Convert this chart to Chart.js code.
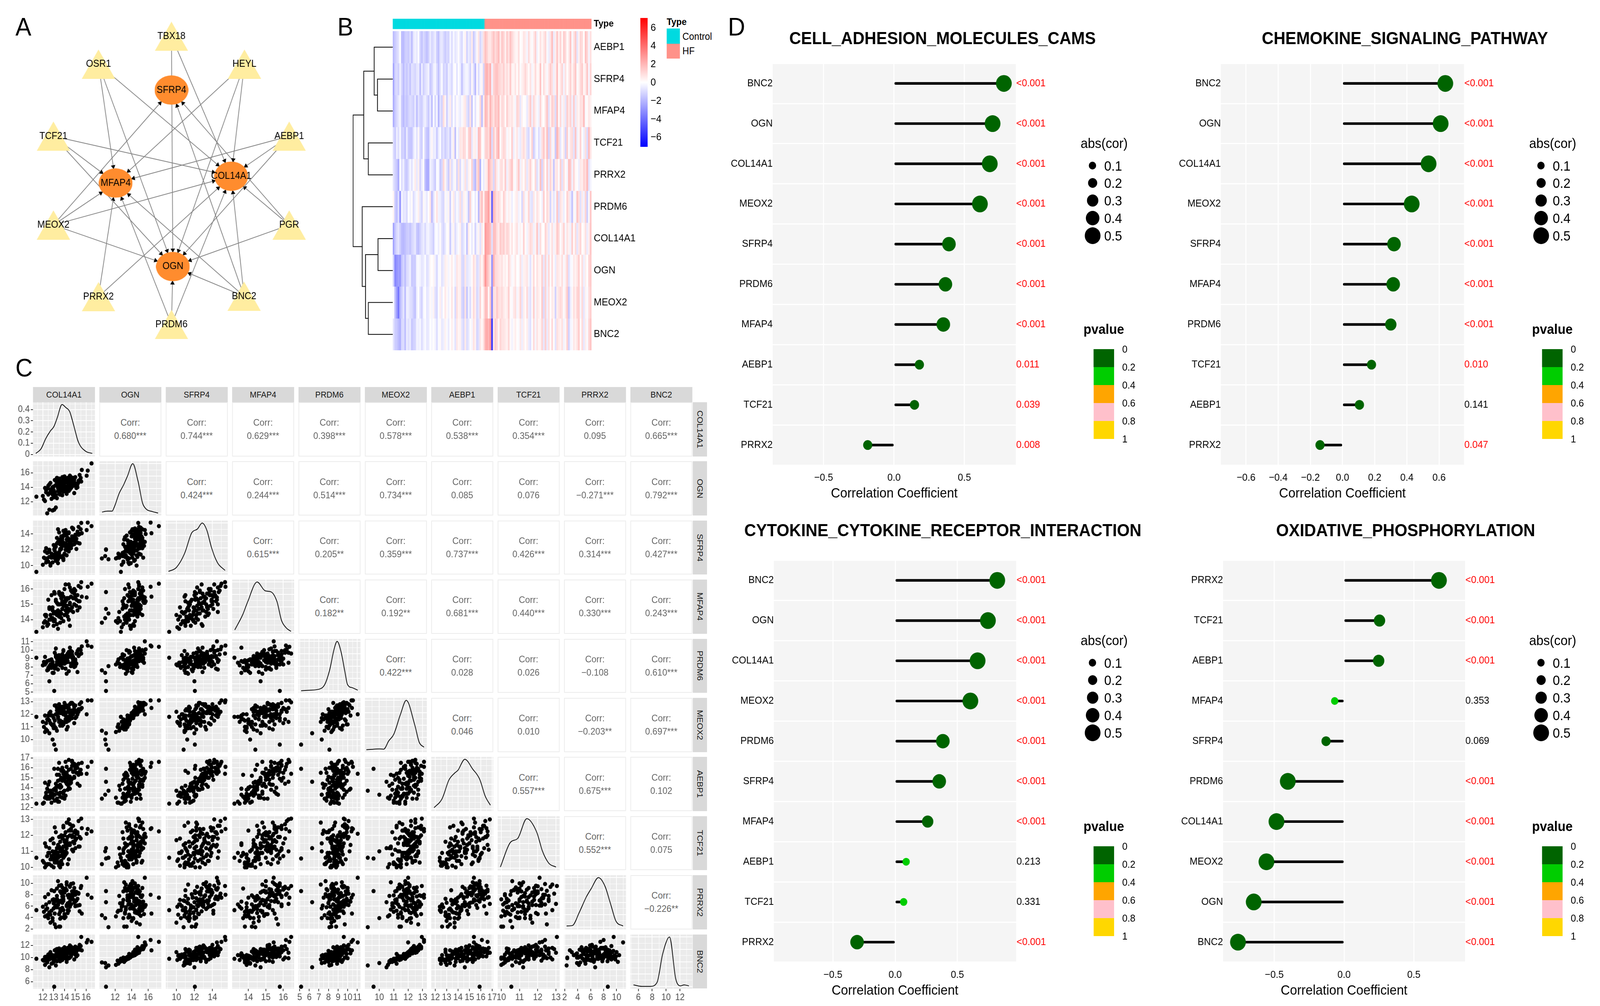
<!DOCTYPE html>
<html><head><meta charset="utf-8">
<style>
html,body{margin:0;padding:0;background:#fff;font-family:"Liberation Sans",Arial,sans-serif;overflow:hidden}
#page{position:absolute;left:0;top:0;width:4363px;height:2576px;overflow:hidden;background:#fff;transform-origin:0 0}
canvas{position:absolute}
.t{position:absolute;white-space:nowrap;line-height:1}
.b{position:absolute}
</style>
<script src="https://cdn.jsdelivr.net/npm/chart.js@4"></script>
</head><body><div id="page"></div>
<script>
/* ---------- A: network ---------- */
const nodeNames=['TBX18','OSR1','HEYL','TCF21','AEBP1','MEOX2','PGR','PRRX2','BNC2','PRDM6','SFRP4','COL14A1','MFAP4','OGN'];
const nodeX=[468,264,672,138,797,138,797,264,671,468,468,635,312,472];
const nodeY=[84,157,157,346,346,579,579,767,766,840,225,451,469,688];
const hubNames=['SFRP4','COL14A1','MFAP4','OGN'];
const edgeFrom=['TBX18','TBX18','OSR1','OSR1','OSR1','HEYL','HEYL','HEYL','TCF21','TCF21','TCF21','AEBP1','AEBP1','AEBP1','MEOX2','MEOX2','MEOX2','MEOX2','PGR','PGR','PGR','PRRX2','PRRX2','BNC2','BNC2','BNC2','BNC2','PRDM6','PRDM6','PRDM6'];
const edgeTo=['OGN','COL14A1','MFAP4','OGN','COL14A1','MFAP4','OGN','COL14A1','MFAP4','OGN','COL14A1','MFAP4','COL14A1','OGN','SFRP4','MFAP4','COL14A1','OGN','SFRP4','COL14A1','OGN','MFAP4','COL14A1','SFRP4','COL14A1','MFAP4','OGN','MFAP4','OGN','COL14A1'];

/* ---------- B + C: expression per sample; column order = pairGenes ---------- */
const pairGenes=['COL14A1','OGN','SFRP4','MFAP4','PRDM6','MEOX2','AEBP1','TCF21','PRRX2','BNC2'];
const controlSamples=[
[11.4,12.7,9.2,13.2,9.1,11.8,12.4,10.6,5.3,9.8],[12.4,10.4,10.9,13.8,7.6,10.7,12.9,10.2,4.4,9.2],[12.9,10.8,11.2,14.1,7.3,10.0,13.3,11.0,3.9,9.1],
[13.2,11.2,10.8,14.4,8.1,9.2,13.7,10.6,2.3,8.7],[12.6,10.9,12.0,14.7,6.3,10.5,14.6,11.2,6.7,8.4],[12.1,12.3,11.0,13.8,8.6,11.0,12.5,10.3,5.0,9.5],
[12.0,12.8,10.1,13.5,8.2,11.4,12.4,10.4,5.9,9.6],[12.2,12.1,10.9,13.9,8.3,10.6,13.0,10.0,4.2,8.8],[12.5,13.0,10.5,13.7,7.9,11.6,13.1,10.9,3.9,10.0],
[12.6,13.2,11.1,14.0,8.8,11.5,12.9,10.2,4.9,9.7],[12.3,13.6,10.4,14.2,8.5,11.3,13.5,10.1,6.3,10.0],[12.8,12.4,11.5,14.1,8.9,11.2,12.5,10.1,5.2,9.0],
[13.0,12.6,11.3,13.9,8.0,10.9,13.8,10.8,6.5,9.3],[13.3,12.5,11.0,14.5,8.4,10.7,14.2,11.2,7.8,9.4],[12.4,13.8,11.6,13.6,8.7,11.6,13.9,10.7,5.6,10.2],
[12.2,13.9,11.8,14.3,9.2,11.9,14.5,11.5,7.6,10.1],[12.7,13.7,10.2,14.0,8.2,11.3,13.2,10.5,4.5,10.3],[13.1,13.3,11.9,13.9,7.8,11.0,12.7,10.3,5.8,9.6],
[13.4,13.5,10.8,14.4,9.0,11.7,13.4,11.4,7.0,10.1],[12.9,14.0,11.4,14.6,8.6,11.9,13.0,10.5,3.4,10.4],[13.5,13.1,11.7,14.2,8.3,11.4,12.6,10.1,2.4,9.9],
[13.6,13.4,12.1,13.8,8.8,11.5,13.1,10.0,2.4,10.0],[13.2,14.3,10.6,14.5,9.4,12.0,14.0,11.0,6.0,10.5],[13.0,14.1,11.0,13.6,7.3,11.7,13.3,11.5,5.6,10.3],
[12.6,14.4,11.9,14.8,8.1,12.1,13.6,10.9,4.9,10.6],[13.7,13.6,12.2,14.1,8.9,11.3,14.1,11.0,4.0,10.2],[13.8,12.9,11.2,14.7,9.5,11.1,13.0,10.2,6.6,9.6],
[13.4,13.9,10.3,13.4,8.5,11.8,12.6,10.9,6.3,10.4],[14.0,14.2,11.5,14.3,8.4,12.2,13.7,11.3,3.9,10.7],[13.1,13.2,12.4,14.0,8.0,11.5,13.9,10.4,4.7,9.9],
[12.8,13.5,11.0,15.6,7.9,11.9,13.4,10.7,8.8,10.1],[13.3,14.6,11.3,15.1,9.0,12.3,12.9,10.3,7.3,10.9],[13.9,14.4,10.7,13.9,8.6,12.0,13.4,10.6,5.3,10.4],
[14.1,13.8,12.0,14.6,9.1,11.6,13.2,10.8,4.1,10.0],[12.5,14.2,11.7,15.3,7.7,11.9,14.3,10.2,8.1,10.5],[13.6,14.7,11.1,14.2,8.9,12.4,13.5,11.1,5.0,11.0],
[14.2,14.0,12.3,14.9,9.3,11.8,14.4,11.7,6.2,10.4],[13.0,13.6,12.6,14.4,8.2,11.2,13.8,10.0,7.2,9.8],[13.5,14.9,11.5,15.0,8.7,12.5,14.1,11.3,4.6,11.2],
[13.8,14.5,12.5,14.7,8.4,12.1,14.7,10.9,8.4,10.8],[14.3,14.6,11.9,14.5,9.6,12.2,13.8,11.9,4.8,10.9],[12.9,13.0,10.4,14.8,8.1,11.1,13.4,11.8,7.1,9.8],
[13.2,12.9,11.6,15.2,9.2,10.9,14.4,12.2,6.1,9.5],[13.7,14.8,12.1,15.4,9.0,12.4,15.0,12.0,8.3,11.1],[12.3,13.3,12.2,14.3,8.5,10.8,13.2,11.3,5.4,9.6],
[14.4,13.5,11.8,14.0,7.5,11.6,14.0,12.3,7.5,9.9],[13.9,13.7,10.9,15.5,9.9,11.2,13.6,12.6,6.9,10.6],[13.3,14.2,12.8,13.7,8.6,12.0,15.3,10.8,9.1,10.3],
[14.0,15.1,11.4,14.9,8.8,12.6,12.9,11.6,4.3,11.3],[12.7,14.6,10.0,14.3,8.3,12.2,13.7,11.7,3.1,10.9],[13.6,13.0,12.7,15.0,8.9,11.1,14.8,11.1,8.6,9.4],
[14.2,13.3,11.3,14.8,7.2,11.4,15.5,12.8,9.8,9.7],[13.1,15.0,12.2,15.7,9.7,12.7,13.3,12.5,2.8,11.2],[14.5,14.3,12.9,13.6,10.3,11.9,13.9,11.4,6.8,10.7],
[13.8,15.4,11.0,15.2,9.1,12.3,15.7,11.2,5.7,11.4]];
const hfSamples=[
[16.5,17.3,15.0,16.35,10.4,13.1,16.6,12.25,7.5,12.6],[16.15,16.3,15.45,16.15,10.55,13.1,16.1,12.4,8.0,12.9],[16.05,15.6,14.5,15.45,11.05,12.0,15.4,12.1,11.0,12.5],
[15.55,14.8,15.4,16.45,9.6,12.95,15.4,13.05,9.55,13.4],[13.05,10.9,12.05,15.8,5.15,9.6,15.9,10.55,8.65,5.2],[15.6,16.4,14.1,15.5,10.45,12.5,16.5,12.45,4.7,11.2],
[15.5,15.3,14.6,16.1,10.0,12.4,15.8,11.8,9.2,11.9],[14.7,15.1,14.8,15.9,9.5,12.9,16.2,12.6,7.8,11.5],[14.4,14.9,14.2,16.3,9.7,12.5,16.8,13.0,6.4,10.8],
[15.3,14.7,13.9,15.2,9.3,12.4,15.3,11.3,8.3,11.7],[14.9,15.0,13.6,15.7,8.9,12.6,16.4,11.9,8.6,11.3],[15.2,14.4,14.3,15.6,9.9,12.3,16.0,12.2,7.3,11.3],
[14.5,14.6,13.3,15.0,9.4,12.1,15.1,12.0,9.5,11.1],[15.0,14.2,13.8,15.9,8.7,12.2,16.3,11.2,6.0,10.9],[14.8,15.3,13.2,15.4,9.2,12.8,15.6,11.6,7.9,11.6],
[14.1,14.7,14.5,15.3,9.0,12.0,16.6,11.4,8.9,10.7],[14.6,13.9,13.0,15.5,8.4,11.8,15.9,12.4,9.9,10.2],[13.9,14.3,12.9,15.1,8.8,12.3,15.4,11.0,7.2,10.7],
[14.3,14.8,13.5,14.7,9.1,12.5,15.0,11.5,6.5,11.0],[14.7,14.1,12.6,15.8,9.3,11.7,14.9,11.9,8.1,10.6],[13.7,14.0,13.7,15.6,8.5,12.1,15.7,11.1,9.7,10.4],
[14.2,15.0,12.4,14.4,8.9,12.7,14.6,10.9,6.0,11.2],[13.8,13.6,13.1,15.2,7.9,11.4,14.8,11.8,7.7,10.1],[15.1,14.5,13.4,14.9,9.6,12.2,15.5,12.1,7.0,11.0],
[14.0,14.6,14.0,15.0,8.6,12.0,15.2,11.7,8.4,10.6],[13.6,14.9,13.3,14.5,9.0,12.6,14.3,10.7,5.5,11.0],[14.4,13.8,12.7,15.4,9.8,11.5,15.8,10.5,8.0,10.0],
[14.9,13.2,13.6,16.0,8.3,11.3,15.0,11.5,9.2,9.7],[14.6,14.3,12.2,14.6,8.1,12.0,14.5,12.3,7.4,10.5],[13.5,15.2,12.9,15.7,9.4,12.8,15.3,10.3,6.7,11.5],
[14.2,14.1,13.9,15.3,8.7,11.7,16.1,10.9,8.8,10.3],[15.4,15.0,12.8,14.8,9.5,12.4,14.2,11.3,5.1,11.3],[13.4,14.5,13.0,14.6,9.2,12.2,14.7,10.6,6.2,10.8],
[14.8,14.4,14.7,15.8,8.8,12.0,15.6,11.0,10.0,10.9],[14.0,15.5,12.5,15.1,8.5,12.9,14.9,12.0,4.6,11.7],[13.9,13.4,13.8,14.9,10.0,11.2,15.4,12.5,8.7,9.9],
[15.0,15.4,13.1,15.5,8.9,12.7,15.9,11.7,6.8,11.8],[14.5,13.7,12.3,16.1,9.7,11.6,14.4,12.7,9.4,10.0],[13.3,15.3,13.5,14.3,9.3,12.5,14.1,10.4,5.8,11.4],
[14.1,14.0,14.4,15.2,7.8,11.9,15.5,12.2,9.0,10.5],[14.7,15.2,13.7,15.9,9.1,12.3,16.7,11.1,7.6,11.6],[13.6,14.2,12.0,15.6,8.2,12.1,14.0,11.6,3.8,10.6],
[14.3,13.5,13.2,14.2,8.6,11.0,15.2,10.2,7.9,9.8],[15.3,14.9,14.9,16.2,10.1,12.2,16.4,12.9,8.2,11.4],[14.9,14.7,12.7,15.0,8.0,12.4,15.1,12.2,6.6,11.1],
[13.8,14.4,13.4,15.7,9.5,12.6,16.0,10.8,9.3,10.9],[14.4,15.1,14.1,14.7,9.2,12.4,14.8,11.4,5.2,11.4],[15.1,13.9,12.1,15.3,8.4,11.8,16.2,11.8,8.5,10.2],
[13.7,14.6,13.6,14.4,8.8,12.3,15.8,10.4,7.0,10.8],[14.6,15.4,12.6,15.9,9.9,12.9,14.7,12.4,6.3,11.8],[14.2,13.1,13.3,15.4,9.4,10.8,15.3,11.2,10.2,9.3],
[13.5,13.8,14.2,15.8,8.3,11.5,16.5,11.9,9.6,10.2],[15.2,14.0,12.9,14.6,7.4,12.0,14.4,12.1,6.1,10.4],[14.0,14.8,13.8,16.0,9.0,12.5,15.5,10.7,8.9,11.2],
[14.8,14.5,14.6,14.5,8.6,12.2,16.3,12.6,7.2,10.9],[13.2,14.9,12.4,15.3,10.2,12.7,13.8,11.0,6.9,11.3],[14.5,15.6,13.0,15.1,9.6,12.8,15.0,11.5,5.9,12.0],
[15.0,14.2,13.9,15.6,8.1,11.7,16.0,12.3,8.0,10.5],[13.9,15.1,14.4,15.5,9.3,12.6,15.7,11.3,7.7,11.5],[14.1,13.6,12.8,16.3,8.5,11.4,14.6,11.0,9.1,9.9],
[14.7,14.6,13.4,14.8,9.8,12.1,16.6,12.0,8.6,11.0],[13.4,14.1,14.6,15.0,7.7,11.8,15.9,10.6,10.4,10.4],[14.3,15.3,12.2,15.4,8.7,12.5,14.3,12.8,5.3,11.6],
[15.4,15.7,14.0,15.2,10.1,12.8,15.6,11.9,6.2,12.1]];

const densityXY={
COL14A1:[[11.35,.01],[11.83,.05],[12.26,.14],[12.7,.21],[13,.245],[13.34,.33],[13.77,.445],[14.1,.42],[14.49,.38],[14.85,.26],[15.29,.11],[15.94,.03],[16.56,.01]],
OGN:[[10.43,.02],[11.08,.04],[11.65,.04],[11.9,.12],[12.5,.4],[13.06,.58],[13.5,.75],[14.14,1],[14.77,.65],[15.33,.2],[15.76,.08],[16.5,.03],[17.2,0]],
SFRP4:[[9.12,.02],[10,.1],[10.9,.38],[11.7,.8],[12.34,.88],[12.86,1],[13.39,.85],[13.9,.5],[14.55,.2],[15.4,.04]],
MFAP4:[[13.22,.03],[13.69,.35],[13.96,.6],[14.5,1],[14.97,.82],[15.3,.8],[15.64,.6],[15.9,.22],[16.17,.07],[16.44,0]],
PRDM6:[[5.15,0],[6,.01],[7,.03],[7.6,.12],[8.1,.4],[8.6,.85],[8.9,1],[9.3,.8],[9.7,.4],[10,.12],[10.5,.06],[11.05,.01]],
MEOX2:[[9.1,0],[9.6,.01],[10,.015],[10.3,.01],[10.66,.18],[11,.31],[11.45,.7],[11.87,1],[12.46,.5],[12.77,.15],[13.1,.05]],
AEBP1:[[11.9,.02],[12.6,.2],[13.2,.58],[13.7,.72],[14,.78],[14.6,1],[15.3,.8],[15.9,.6],[16.4,.25],[16.85,.07]],
TCF21:[[9.95,.02],[10.5,.52],[10.9,.6],[11.4,1],[11.95,.72],[12.25,.35],[12.6,.1],[13,.02]],
PRRX2:[[2.3,.02],[3.2,.03],[4.2,.28],[5.3,.6],[6.1,.78],[7.2,1],[8.2,.83],[9,.5],[9.9,.12],[11,.02]],
BNC2:[[5.3,.03],[6.5,0],[7.75,0],[8.7,.08],[9.5,.65],[10.5,1],[11.4,.15],[12.1,.01],[12.6,.03],[13.3,.01]]};
const axisMin=[11.09,10.1,8.82,13.07,4.88,9.0,11.65,9.8,1.9,4.85];
const axisMax=[16.82,17.6,15.7,16.62,11.34,13.3,17.1,13.2,11.45,13.8];
const axisTicks=[[12,13,14,15,16],[12,14,16],[10,12,14],[14,15,16],[5,6,7,8,9,10,11],[10,11,12,13],[12,13,14,15,16,17],[10,11,12,13],[2,4,6,8,10],[6,8,10,12]];
const densityTicks=[0,.1,.2,.3,.4];
const corrLabels=[
['0.680***','0.744***','0.629***','0.398***','0.578***','0.538***','0.354***','0.095','0.665***'],
['0.424***','0.244***','0.514***','0.734***','0.085','0.076','\u22120.271***','0.792***'],
['0.615***','0.205**','0.359***','0.737***','0.426***','0.314***','0.427***'],
['0.182**','0.192**','0.681***','0.440***','0.330***','0.243***'],
['0.422***','0.028','0.026','\u22120.108','0.610***'],
['0.046','0.010','\u22120.203**','0.697***'],
['0.557***','0.675***','0.102'],
['0.552***','0.075'],
['\u22120.226**']];

/* ---------- B: heatmap layout data ---------- */
const heatRows=['AEBP1','SFRP4','MFAP4','TCF21','PRRX2','PRDM6','COL14A1','OGN','MEOX2','BNC2'];
const dendroMerges=[[1,2,60],[0,10,73],[3,4,96],[11,12,114],[6,7,58],[8,9,96],[14,15,107],[5,16,120],[13,17,156]];
const heatLegendTicks=[6,4,2,0,-2,-4,-6];
const typeNames=['Control','HF'];
const typeColors=['#00DAE0','#FF9289'];

/* ---------- D: lollipops ---------- */
const cellGenes=['BNC2','OGN','COL14A1','MEOX2','SFRP4','PRDM6','MFAP4','AEBP1','TCF21','PRRX2'];
const cellCor=[.78,.70,.68,.61,.39,.365,.35,.18,.145,-.187];
const cellP=['<0.001','<0.001','<0.001','<0.001','<0.001','<0.001','<0.001','0.011','0.039','0.008'];
const chemGenes=['BNC2','OGN','COL14A1','MEOX2','SFRP4','MFAP4','PRDM6','TCF21','AEBP1','PRRX2'];
const chemCor=[.639,.61,.535,.43,.32,.315,.30,.18,.105,-.14];
const chemP=['<0.001','<0.001','<0.001','<0.001','<0.001','<0.001','<0.001','0.010','0.141','0.047'];
const cytoGenes=['BNC2','OGN','COL14A1','MEOX2','PRDM6','SFRP4','MFAP4','AEBP1','TCF21','PRRX2'];
const cytoCor=[.82,.745,.662,.604,.383,.354,.261,.088,.068,-.306];
const cytoP=['<0.001','<0.001','<0.001','<0.001','<0.001','<0.001','<0.001','0.213','0.331','<0.001'];
const oxGenes=['PRRX2','TCF21','AEBP1','MFAP4','SFRP4','PRDM6','COL14A1','MEOX2','OGN','BNC2'];
const oxCor=[.68,.254,.248,-.067,-.129,-.403,-.484,-.556,-.647,-.76];
const oxP=['<0.001','<0.001','<0.001','0.353','0.069','<0.001','<0.001','<0.001','<0.001','<0.001'];
const sizeLegendValues=[.1,.2,.3,.4,.5];
const sizeLegendDiam=[20,25,31,37,43];
const pLegendLabels=['0','0.2','0.4','0.6','0.8','1'];
const pLegendColors=['#006400','#00CD00','#FFA500','#FFC0CB','#FFD700'];

/* ---------- helpers ---------- */
const FONT='"Liberation Sans",Arial,sans-serif';
Chart.defaults.font.family=FONT;
Chart.defaults.animation=false;
Chart.defaults.responsive=false;
Chart.defaults.devicePixelRatio=1;
Chart.defaults.plugins.legend.display=false;
Chart.defaults.plugins.tooltip.enabled=false;
const page=document.getElementById('page');
/* the window is narrower than the 4363 px layout: fit the layout to the window width */
page.style.transform=`scale(${Math.min(1,window.innerWidth/4363)},1)`;
function mk(l,t,w,h,cfg){const c=document.createElement('canvas');c.width=w;c.height=h;c.style.left=l+'px';c.style.top=t+'px';c.style.width=w+'px';c.style.height=h+'px';page.appendChild(c);cfg.options=cfg.options||{};cfg.options.events=[];return new Chart(c,cfg);}
function txt(s,x,y,size,o={}){const d=document.createElement('div');d.className='t';d.textContent=s;d.style.fontSize=size+'px';d.style.left=x+'px';d.style.top=(y-size/2)+'px';d.style.color=o.color||'#000';if(o.bold)d.style.fontWeight='bold';if(o.center)d.style.transform='translateX(-50%)';page.appendChild(d);return d;}
function box(x,y,w,h,bg,extra){const d=document.createElement('div');d.className='b';d.style.cssText+=`left:${x}px;top:${y}px;width:${w}px;height:${h}px;background:${bg};`+(extra||'');page.appendChild(d);return d;}
function letter(s,x,base){const d=txt(s,x,0,65);d.style.top=(base-55)+'px';}
letter('A',42,91);letter('B',920,91);letter('C',42,964);letter('D',1985,91);
function zeroPad(s){s.paddingLeft=s.paddingRight=s.paddingTop=s.paddingBottom=0;}

/* ---------- A ---------- */
function nodeSprite(kind){const c=document.createElement('canvas');c.width=kind==='t'?91:92;c.height=75;const g=c.getContext('2d');g.beginPath();
 if(kind==='t'){g.fillStyle='#FFEDA0';g.moveTo(45.5,0);g.lineTo(91,75);g.lineTo(0,75);g.closePath();}
 else{g.fillStyle='#FF8C2E';g.ellipse(46,37.5,46,37.5,0,0,Math.PI*2);}
 g.fill();return c;}
const triSprite=nodeSprite('t'),ellSprite=nodeSprite('e');
const nodeIdx=n=>nodeNames.indexOf(n);
const edgeDatasets=edgeFrom.map((f,i)=>{
 const a=nodeIdx(f),b=nodeIdx(edgeTo[i]);
 const dx=nodeX[b]-nodeX[a],dy=nodeY[b]-nodeY[a],len=Math.hypot(dx,dy),ux=dx/len,uy=dy/len;
 const d=1/Math.sqrt((ux/46)**2+(uy/37.5)**2)+6;
 return {type:'scatter',showLine:true,order:2,borderColor:'#858585',borderWidth:2,
  data:[{x:nodeX[a],y:nodeY[a]},{x:nodeX[b]-ux*d,y:nodeY[b]-uy*d}],
  pointRadius:[0,7],pointStyle:'triangle',pointRotation:Math.atan2(ux,-uy)*180/Math.PI,pointBackgroundColor:'#000',pointBorderWidth:0};
});
mk(0,0,900,920,{type:'scatter',data:{datasets:[
 {order:1,data:nodeNames.map((n,i)=>({x:nodeX[i],y:nodeY[i]})),pointRadius:10,
  pointStyle:nodeNames.map(n=>hubNames.includes(n)?ellSprite:triSprite)},
 ...edgeDatasets]},
 options:{layout:{padding:0},scales:{x:{display:false,min:0,max:900},y:{display:false,min:0,max:920,reverse:true}}},
 plugins:[{id:'nodeLabels',afterDraw(ch){const g=ch.ctx;g.save();g.font='25px '+FONT;g.fillStyle='#000';g.textAlign='center';g.textBaseline='middle';
  nodeNames.forEach((n,i)=>g.fillText(n,ch.scales.x.getPixelForValue(nodeX[i]),ch.scales.y.getPixelForValue(nodeY[i])));g.restore();}}]});

/* ---------- B ---------- */
const allSamples=[...controlSamples,...hfSamples];
const geneMean=pairGenes.map((g,k)=>allSamples.reduce((s,r)=>s+r[k],0)/allSamples.length);
const geneSd=pairGenes.map((g,k)=>Math.sqrt(allSamples.reduce((s,r)=>s+(r[k]-geneMean[k])**2,0)/allSamples.length));
function heatColor(v){const t=Math.min(1,Math.abs(v)/7),u=Math.round(255*(1-t));return v<0?`rgb(${u},${u},255)`:`rgb(255,${u},${u})`;}
const sampleLabels=allSamples.map((r,i)=>i);
const heatSets=heatRows.map((name,r)=>{const k=pairGenes.indexOf(name);
 return {label:name,data:allSamples.map(()=>[r,r+1]),backgroundColor:allSamples.map(s=>heatColor((s[k]-geneMean[k])/geneSd[k]))};});
heatSets.push({label:'Type',data:allSamples.map(()=>[-.392,-.073]),backgroundColor:allSamples.map((s,i)=>typeColors[i<controlSamples.length?0:1])});
mk(1071,48,702,849,{type:'bar',data:{labels:sampleLabels,datasets:heatSets},
 options:{layout:{padding:{right:160}},datasets:{bar:{grouped:false,barPercentage:1,categoryPercentage:1,borderWidth:0,borderSkipped:false}},
 scales:{x:{display:false},y:{display:false,min:-.392,max:10,reverse:true}}},
 plugins:[{id:'rowLabels',afterDraw(ch){const g=ch.ctx;g.save();g.font='26px '+FONT;g.fillStyle='#000';g.textBaseline='middle';const X=ch.chartArea.right+6;
  heatRows.forEach((n,r)=>g.fillText(n,X,ch.scales.y.getPixelForValue(r+.5)));
  g.font='bold 24px '+FONT;g.fillText('Type',X,ch.scales.y.getPixelForValue(-.232));g.restore();}}]});
const dendroY=[...heatRows.map((n,i)=>i+.5)],dendroH=heatRows.map(()=>0),dendroSets=[];
dendroMerges.forEach(([a,b,h])=>{dendroSets.push({type:'scatter',showLine:true,borderColor:'#000',borderWidth:2,pointRadius:0,
  data:[{x:dendroH[a],y:dendroY[a]},{x:h,y:dendroY[a]},{x:h,y:dendroY[b]},{x:dendroH[b],y:dendroY[b]}]});
  dendroY.push((dendroY[a]+dendroY[b])/2);dendroH.push(h);});
mk(962,48,109,849,{type:'scatter',data:{datasets:dendroSets},options:{layout:{padding:0},scales:{x:{display:false,min:0,max:157,reverse:true},y:{display:false,min:-.392,max:10,reverse:true}}}});
box(1746,46,20,330,'linear-gradient(to bottom,#ff0000,#ffffff 50%,#0000ff)');
heatLegendTicks.forEach(v=>txt(String(v).replace('-','\u2212'),1774,210-v*23.4,26));
txt('Type',1818,56,24,{bold:true});
typeNames.forEach((n,i)=>{box(1818,73+i*38.5,36,38.5,typeColors[i]);txt(n,1861,93+i*37,25);});

/* ---------- C ---------- */
const PX=90,PY=1030,SX=181,SY=151.4,PW=168.5,PH=138.5,M=14;
pairGenes.forEach((g,j)=>{
 const s=box(PX+j*SX,991,PW,39,'#d9d9d9','display:flex;align-items:center;justify-content:center;font-size:22px;color:#1a1a1a');s.textContent=g;
 const r=box(1889,PY+j*SY,39,PH,'#d9d9d9','display:flex;align-items:center;justify-content:center;font-size:22px;color:#1a1a1a;writing-mode:vertical-rl');r.textContent=g;
});
function minorTicks(maj,min,max){const step=maj[1]-maj[0],out=[];for(let i=0;i<maj.length;i++){out.push({value:maj[i],major:true});}
 for(let v=maj[0]-step/2;v>min;v-=step)out.push({value:v,major:false});
 for(let v=maj[0]+step/2;v<max;v+=step)out.push({value:v,major:false});
 return out.sort((a,b)=>a.value-b.value);}
function gaxis(maj,min,max,show,isY){const list=minorTicks(maj,min,max);return {type:'linear',min,max,border:{display:false},
 afterBuildTicks(s){s.ticks=list.map(t=>({value:t.value,major:t.major}));},
 afterFit(s){if(isY)s.width=show?76:0;else s.height=show?42:0;zeroPad(s);},
 grid:{color:'#fff',lineWidth:c=>(c.tick&&c.tick.major)?2:1,drawTicks:show,tickLength:6,tickColor:c=>(c.tick&&c.tick.major)?'#333':'rgba(0,0,0,0)',tickWidth:2},
 ticks:{display:show,autoSkip:false,maxRotation:0,minRotation:0,padding:3,color:'#4d4d4d',font:{size:23},
  callback(v){const t=list.find(q=>Math.abs(q.value-v)<1e-9);if(!t||!t.major)return '';return String(+v.toFixed(2));}}};}
const panelBg={id:'panelBg',beforeDraw(ch){const a=ch.chartArea,g=ch.ctx;g.save();g.fillStyle=ch.options.plugins.panelBg.color;g.fillRect(a.left,a.top,a.width,a.height);g.restore();}};
const geneVals=k=>allSamples.map(r=>r[k]);
pairGenes.forEach((gy,i)=>{pairGenes.forEach((gx,j)=>{
 const left=PX+j*SX,top=PY+i*SY;
 if(j>i){
  box(left,top,PW-4,PH-4,'#fff','border:2px solid #ececec');
  const cx=left+PW/2,cy=top+PH/2;
  txt('Corr:',cx,cy-17,24,{center:true,color:'#666'});
  txt(corrLabels[i][j-i-1],cx,cy+17,24,{center:true,color:'#666'});
  return;
 }
 const showY=j===0,showX=i===9;
 const cl=showY?left-76-M:left-M,ct=top-M;
 const cw=(showY?76:0)+PW+2*M,chh=PH+2*M+(showX?42:0);
 let datasets,yScale;
 if(i===j){
  const pts=densityXY[gx],peak=Math.max(...pts.map(p=>p[1]));
  datasets=[{type:'scatter',showLine:true,borderColor:'#000',borderWidth:2,pointRadius:0,cubicInterpolationMode:'monotone',data:pts.map(p=>({x:p[0],y:p[1]}))}];
  yScale=i===0?gaxis(densityTicks,-.018,.465,true,true):gaxis([0,peak*.25,peak*.5,peak*.75,peak],-.05*peak,peak*1.05,false,true);
 }else{
  const xs=geneVals(j),ys=geneVals(i);
  datasets=[{type:'scatter',backgroundColor:'#000',pointBackgroundColor:'#000',pointRadius:5.5,pointBorderWidth:0,data:xs.map((x,k)=>({x,y:ys[k]}))}];
  yScale=gaxis(axisTicks[i],axisMin[i],axisMax[i],showY,true);
 }
 mk(Math.round(cl),Math.round(ct),Math.round(cw),Math.round(chh),{type:'scatter',data:{datasets},
  options:{layout:{padding:{left:M,right:M,top:M,bottom:M}},plugins:{panelBg:{color:'#ebebeb'}},
   scales:{x:gaxis(axisTicks[j],axisMin[j],axisMax[j],showX,false),y:yScale}},plugins:[panelBg]});
});});

/* ---------- D ---------- */
function sizeFor(c){const b=Math.min(.5,Math.ceil(Math.abs(c)*10)/10);const k=Math.max(0,Math.round(b*10)-1);return sizeLegendDiam[k]/2;}
const pNum=p=>p.startsWith('<')?0:parseFloat(p);
function lollipop(o){
 const titleH=53.4,tp=o.plotTop-(o.titleY-titleH/2)-titleH;
 const left=o.plotL-140,w=2*(o.titleX-left),top=o.titleY-titleH/2,axisH=94,h=o.plotBottom+axisH-top;
 mk(left,Math.round(top),w,Math.round(h),{type:'bar',data:{labels:o.genes,datasets:[
  {type:'line',order:0,showLine:false,data:o.cor,pointRadius:o.cor.map(sizeFor),pointBackgroundColor:o.p.map(p=>pNum(p)>.2?'#00CD00':'#006400'),pointBorderWidth:0},
  {type:'bar',order:1,data:o.cor,backgroundColor:'#000',barThickness:6,borderRadius:3,borderSkipped:false}]},
  options:{indexAxis:'y',layout:{padding:0},
   plugins:{panelBg:{color:'#f5f5f5'},title:{display:true,text:o.title,color:'#000',font:{size:44.5,weight:'bold'},padding:{top:0,bottom:tp}}},
   scales:{
    x:{type:'linear',min:o.min,max:o.max,border:{display:false},
     afterBuildTicks(s){s.ticks=o.ticks.map(value=>({value}));},
     afterFit(s){s.height=axisH;zeroPad(s);},
     grid:{color:'#fff',lineWidth:3,drawTicks:false},
     title:{display:true,text:'Correlation Coefficient',color:'#000',font:{size:35},padding:0},
     ticks:{color:'#000',font:{size:26},padding:17,maxRotation:0,autoSkip:false,callback:v=>(v<0?'\u2212':'')+Math.abs(v).toFixed(1)}},
    y:{type:'category',offset:true,border:{display:false},
     afterFit(s){s.width=140;zeroPad(s);},
     grid:{color:'#fff',lineWidth:3,offset:true,drawTicks:false},
     ticks:{color:'#000',font:{size:26},padding:0,autoSkip:false}},
    padR:{type:'linear',axis:'y',position:'right',min:0,max:1,border:{display:false},grid:{display:false},ticks:{display:false},
     afterFit(s){s.width=left+w-o.plotR;zeroPad(s);}}}},
  plugins:[panelBg,{id:'pText',afterDraw(ch){const g=ch.ctx;g.save();g.font='26px '+FONT;g.textBaseline='middle';
    o.p.forEach((p,i)=>{g.fillStyle=pNum(p)<.05?'#f00':'#000';g.fillText(p,ch.chartArea.right+1,ch.scales.y.getPixelForValue(i));});g.restore();}}]});
 txt('abs(cor)',o.lx+32,o.absY,35,{center:true});
 sizeLegendValues.forEach((v,i)=>{const y=o.absY+58+i*44.8,d=sizeLegendDiam[i];
  box(o.lx-d/2,y-d/2,d,d,'#000','border-radius:50%');txt(v.toFixed(1),o.lx+32,y,35);});
 txt('pvalue',o.lx+31,o.absY+476,35,{center:true,bold:true});
 const by=o.absY+528,seg=46;
 pLegendColors.forEach((c,i)=>box(o.lx+3,by+i*seg,56,seg,c));
 pLegendLabels.forEach((l,i)=>txt(l,o.lx+81,by+i*seg,26));
}
lollipop({title:'CELL_ADHESION_MOLECULES_CAMS',genes:cellGenes,cor:cellCor,p:cellP,plotL:2107,plotR:2770,plotTop:162.5,plotBottom:1191.5,min:-.862,max:.865,ticks:[-.5,0,.5],titleX:2570,titleY:101,lx:2979,absY:366});
lollipop({title:'CHEMOKINE_SIGNALING_PATHWAY',genes:chemGenes,cor:chemCor,p:chemP,plotL:3329,plotR:3992,plotTop:162.5,plotBottom:1191.5,min:-.757,max:.755,ticks:[-.6,-.4,-.2,0,.2,.4,.6],titleX:3831,titleY:101,lx:4202,absY:366});
lollipop({title:'CYTOKINE_CYTOKINE_RECEPTOR_INTERACTION',genes:cytoGenes,cor:cytoCor,p:cytoP,plotL:2110,plotR:2771,plotTop:1435,plotBottom:2464,min:-.975,max:.972,ticks:[-.5,0,.5],titleX:2571,titleY:1361,lx:2979,absY:1639});
lollipop({title:'OXIDATIVE_PHOSPHORYLATION',genes:oxGenes,cor:oxCor,p:oxP,plotL:3335,plotR:3995,plotTop:1435,plotBottom:2464,min:-.867,max:.867,ticks:[-.5,0,.5],titleX:3833,titleY:1361,lx:4202,absY:1639});
</script></body></html>
